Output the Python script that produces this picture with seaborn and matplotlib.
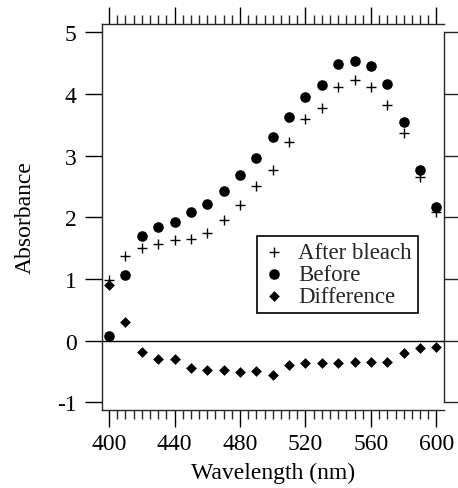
import numpy as np
import pandas as pd
import matplotlib
matplotlib.use("Agg")
import matplotlib.pyplot as plt
from matplotlib.ticker import MultipleLocator
import seaborn as sns

# values
wavelength = [400, 410, 420, 430, 440, 450, 460, 470, 480, 490, 500,
              510, 520, 530, 540, 550, 560, 570, 580, 590, 600]
after_bleach = [0.99, 1.37, 1.51, 1.56, 1.64, 1.65, 1.75, 1.96, 2.20, 2.50, 2.77,
                3.22, 3.59, 3.77, 4.12, 4.22, 4.12, 3.82, 3.37, 2.66, 2.08]
before = [0.07, 1.07, 1.69, 1.84, 1.93, 2.09, 2.22, 2.43, 2.68, 2.96, 3.31,
          3.63, 3.95, 4.14, 4.49, 4.53, 4.46, 4.16, 3.55, 2.77, 2.17]
difference = [0.91, 0.30, -0.18, -0.30, -0.30, -0.44, -0.48, -0.48, -0.50, -0.49, -0.55,
              -0.40, -0.36, -0.37, -0.36, -0.34, -0.34, -0.35, -0.20, -0.12, -0.10]

x_ticks = [400, 440, 480, 520, 560, 600]
y_ticks = [-1, 0, 1, 2, 3, 4, 5]

df = pd.DataFrame({"wavelength": wavelength, "after": after_bleach,
                   "before": before, "diff": difference})

sns.set_theme(style="ticks")
plt.rcParams["font.family"] = ["Liberation Serif", "DejaVu Serif"]
plt.rcParams["axes.linewidth"] = 1.0
plt.rcParams["axes.unicode_minus"] = False

fig = plt.figure(figsize=(4.58, 4.89), dpi=100)
ax = fig.add_axes([0.222, 0.160, 0.747, 0.789])

ax.axhline(0, color="black", lw=1.0, zorder=1)

sns.scatterplot(data=df, x="wavelength", y="after", ax=ax, marker="+", s=60,
                color="black", linewidth=1.0, label="After bleach", zorder=3)
sns.scatterplot(data=df, x="wavelength", y="before", ax=ax, marker="o", s=58,
                color="black", edgecolor="black", linewidth=0, label="Before", zorder=3)
sns.scatterplot(data=df, x="wavelength", y="diff", ax=ax, marker="D", s=30,
                color="black", edgecolor="black", linewidth=0, label="Difference", zorder=3)

ax.set_xlim(395.5, 604.5)
ax.set_ylim(-1.12, 5.135)
ax.set_xticks(x_ticks)
ax.xaxis.set_minor_locator(MultipleLocator(5))
ax.set_yticks(y_ticks)

ax.tick_params(axis="x", which="major", direction="out", length=12, width=1.0,
               top=True, bottom=True, labelsize=17, pad=5, colors="black")
ax.tick_params(axis="x", which="minor", direction="out", length=6.5, width=1.0,
               top=True, bottom=True)
ax.tick_params(axis="y", which="major", direction="out", length=12, width=1.0,
               left=True, right=False, labelsize=17, pad=6, colors="black")
ax.spines["right"].set_visible(False)

# right-hand mirror axis spanning only the labelled range
ax2 = ax.twinx()
ax2.set_ylim(ax.get_ylim())
ax2.set_yticks(y_ticks)
ax2.tick_params(axis="y", direction="out", length=10, width=1.0, labelright=False)
for side in ["left", "top", "bottom"]:
    ax2.spines[side].set_visible(False)
ax2.spines["right"].set_bounds(-1, 5)
ax2.spines["right"].set_linewidth(1.0)

ax.set_xlabel("Wavelength (nm)", fontsize=17, labelpad=5, color="black")
ax.set_ylabel("Absorbance", fontsize=17, labelpad=15, color="black")

leg = ax.legend(loc="upper left", bbox_to_anchor=(0.454, 0.450), borderaxespad=0,
                fontsize=16.5, frameon=True, fancybox=False, framealpha=1,
                edgecolor="black", handlelength=1.0, handletextpad=0.55,
                labelspacing=0.04, borderpad=0.25)
leg.get_frame().set_linewidth(1.2)

fig.savefig("out.png", dpi=100)
